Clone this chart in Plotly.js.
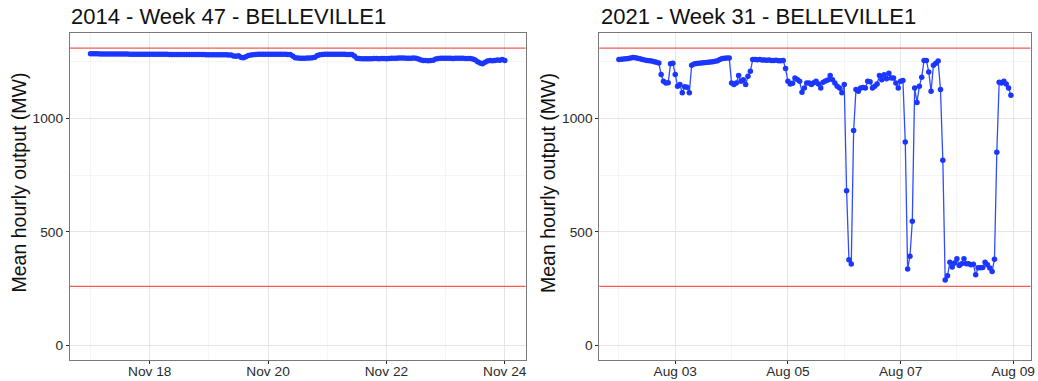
<!DOCTYPE html>
<html>
<head>
<meta charset="utf-8">
<script src="https://cdn.plot.ly/plotly-3.0.1.min.js"></script>
<style>
  html, body { margin: 0; padding: 0; background: #ffffff; }
  #chart { width: 1038px; height: 381px; }
</style>
</head>
<body>
<div id="chart"></div>
<script>
// Hourly mean output of BELLEVILLE1 for two weeks, with the unit's upper and lower limits.

const panelTitles = ['2014 - Week 47 - BELLEVILLE1', '2021 - Week 31 - BELLEVILLE1'];
const weekStarts = ['2014-11-17', '2021-08-02'];
const yAxisTitle = 'Mean hourly output (MW)';

// Operating limits (MW), drawn as horizontal reference lines
const limits = [260, 1310];

// Week 47, 2014: hourly means, Mon 00:00 .. Sun 23:00
const output2014 = [
  1285, 1285, 1285, 1285, 1284, 1284, 1284, 1284, 1284, 1284, 1284, 1284,
  1284, 1284, 1284, 1284, 1283, 1283, 1283, 1283, 1283, 1283, 1283, 1283,
  1283, 1283, 1283, 1283, 1283, 1283, 1283, 1283, 1282, 1282, 1282, 1282,
  1282, 1282, 1282, 1282, 1282, 1282, 1282, 1282, 1282, 1282, 1282, 1281,
  1281, 1281, 1281, 1281, 1281, 1281, 1281, 1281, 1280, 1280, 1276, 1274,
  1277, 1270, 1268, 1272, 1278, 1280, 1281, 1282, 1283, 1283, 1283, 1283,
  1283, 1283, 1283, 1283, 1283, 1283, 1283, 1283, 1282, 1282, 1276, 1268,
  1267, 1266, 1266, 1266, 1267, 1267, 1268, 1270, 1278, 1281, 1282, 1283,
  1283, 1283, 1283, 1283, 1283, 1283, 1283, 1283, 1282, 1282, 1282, 1275,
  1266, 1264, 1263, 1263, 1263, 1263, 1263, 1264, 1264, 1263, 1264, 1264,
  1263, 1265, 1266, 1266, 1266, 1267, 1267, 1267, 1266, 1266, 1266, 1267,
  1266, 1262, 1258, 1256, 1256, 1255, 1256, 1257, 1262, 1265, 1266, 1266,
  1266, 1266, 1266, 1265, 1266, 1266, 1266, 1266, 1265, 1265, 1264, 1262,
  1258, 1250, 1245, 1241, 1248, 1253, 1256, 1255, 1256, 1258, 1257, 1260,
  1256
];

// Week 31, 2021: hourly means, Mon 00:00 .. Sun 23:00
const output2021 = [
  1260, 1261, 1262, 1263, 1265, 1267, 1269, 1268, 1266, 1263, 1260, 1258,
  1256, 1254, 1253, 1250, 1248, 1245, 1194, 1164, 1157, 1158, 1241, 1244,
  1194, 1142, 1150, 1113, 1140, 1138, 1113, 1235, 1240, 1242, 1244, 1245,
  1246, 1247, 1248, 1249, 1250, 1252, 1255, 1260, 1264, 1266, 1267, 1267,
  1157, 1150, 1157, 1189, 1164, 1171, 1150, 1186, 1208, 1260, 1260, 1259,
  1260, 1258, 1258, 1257, 1258, 1256, 1256, 1257, 1255, 1254, 1256, 1220,
  1164, 1152, 1155, 1179, 1172, 1164, 1116, 1135, 1157, 1157, 1150, 1158,
  1164, 1152, 1135, 1160, 1165, 1170, 1189, 1171, 1157, 1142, 1135, 1113,
  1150, 682, 378, 359, 947, 1128, 1120, 1135, 1137, 1135, 1164, 1162,
  1135, 1142, 1152, 1189, 1171, 1193, 1175, 1200, 1178, 1178, 1157, 1135,
  1164, 1167, 897, 337, 393, 547, 1135, 1071, 1142, 1182, 1256, 1256,
  1205, 1120, 1235, 1244, 1253, 1128, 816, 288, 307, 367, 346, 363,
  382, 352, 360, 382, 360, 360, 356, 358, 311, 342, 342, 343,
  367, 356, 341, 326, 380, 851, 1160, 1157, 1164, 1152, 1135, 1103
];

const yTickVals = [0, 500, 1000];
const yMinorVals = [250, 750, 1250];
const xTickLabels2014 = ['Nov 18', 'Nov 20', 'Nov 22', 'Nov 24'];
const xTickVals2014 = ['2014-11-18', '2014-11-20', '2014-11-22', '2014-11-24'];
const xMinorVals2014 = ['2014-11-17', '2014-11-19', '2014-11-21', '2014-11-23'];
const xTickLabels2021 = ['Aug 03', 'Aug 05', 'Aug 07', 'Aug 09'];
const xTickVals2021 = ['2021-08-03', '2021-08-05', '2021-08-07', '2021-08-09'];
const xMinorVals2021 = ['2021-08-02', '2021-08-04', '2021-08-06', '2021-08-08'];

// ---- helpers ----
const HOUR = 3600 * 1000;
function pad(n) { return (n < 10 ? '0' : '') + n; }
function fmt(ms) {
  const d = new Date(ms);
  return d.getUTCFullYear() + '-' + pad(d.getUTCMonth() + 1) + '-' + pad(d.getUTCDate()) +
         ' ' + pad(d.getUTCHours()) + ':' + pad(d.getUTCMinutes());
}
function hourlyTimes(startDay, n) {
  const t0 = Date.parse(startDay + 'T00:00:00Z');
  const out = [];
  for (let i = 0; i < n; i++) out.push(fmt(t0 + i * HOUR));
  return out;
}
function paddedRange(times) {
  const a = Date.parse(times[0].replace(' ', 'T') + ':00Z');
  const b = Date.parse(times[times.length - 1].replace(' ', 'T') + ':00Z');
  const e = (b - a) * 0.05;
  return [fmt(a - e), fmt(b + e)];
}

const W = 1038, H = 381;
const px = v => v / W;
const py = v => 1 - v / H;

const t2014 = hourlyTimes(weekStarts[0], output2014.length);
const t2021 = hourlyTimes(weekStarts[1], output2021.length);

const dotColor = '#1a36ff';
const lineColor = '#2f4cff';
const limitColor = 'rgba(236,64,52,0.85)';
const borderColor = '#7a7a7a';
const gridMajor = '#e2e2e2';
const gridMinor = '#f1f1f1';
const textColor = '#2b2b2b';
const fontFamily = '"Liberation Sans", Arial, Helvetica, sans-serif';

function series(x, y, xa, ya) {
  return {
    type: 'scatter', mode: 'lines+markers', x: x, y: y, xaxis: xa, yaxis: ya,
    line: { color: lineColor, width: 1.3 },
    marker: { color: dotColor, size: 5.5 },
    hoverinfo: 'x+y', showlegend: false
  };
}

function xAxis(domain, range, tickvals, ticktext, minorvals, anchor) {
  return {
    type: 'date', domain: domain, range: range, anchor: anchor,
    tickmode: 'array', tickvals: tickvals, ticktext: ticktext,
    ticks: 'outside', ticklen: 3, tickwidth: 1, tickcolor: textColor,
    ticklabelstandoff: -5,
    tickfont: { family: fontFamily, size: 13.7, color: textColor },
    showgrid: true, gridcolor: gridMajor, gridwidth: 0.9,
    minor: { tickmode: 'array', tickvals: minorvals, showgrid: true, gridcolor: gridMinor, gridwidth: 0.7, ticks: '' },
    showline: true, mirror: true, linecolor: borderColor, linewidth: 1,
    zeroline: false, fixedrange: true
  };
}

function yAxis(domain, anchor) {
  return {
    domain: domain, range: [-65.5, 1375.5], anchor: anchor,
    tickmode: 'array', tickvals: yTickVals,
    ticks: 'outside', ticklen: 3, tickwidth: 1, tickcolor: textColor,
    tickfont: { family: fontFamily, size: 13.7, color: textColor },
    showgrid: true, gridcolor: gridMajor, gridwidth: 0.9,
    minor: { tickmode: 'array', tickvals: yMinorVals, showgrid: true, gridcolor: gridMinor, gridwidth: 0.7, ticks: '' },
    showline: true, mirror: true, linecolor: borderColor, linewidth: 1,
    zeroline: false, fixedrange: true
  };
}

const yDomain = [py(360.3), py(33.3)];

const shapes = [];
[['x', 'y'], ['x2', 'y2']].forEach(([xa, ya]) => {
  limits.forEach(v => {
    shapes.push({
      type: 'line', xref: xa + ' domain', yref: ya, x0: 0, x1: 1, y0: v, y1: v,
      line: { color: limitColor, width: 1.2 }, layer: 'above'
    });
  });
});

const annotations = [
  { text: panelTitles[0], xref: 'paper', yref: 'paper', x: px(69), y: py(17), xanchor: 'left', yanchor: 'middle',
    showarrow: false, font: { family: fontFamily, size: 22, color: '#111' } },
  { text: panelTitles[1], xref: 'paper', yref: 'paper', x: px(598.5), y: py(17), xanchor: 'left', yanchor: 'middle',
    showarrow: false, font: { family: fontFamily, size: 22, color: '#111' } },
  { text: yAxisTitle, xref: 'paper', yref: 'paper', x: px(18.5), y: py(183), xanchor: 'center', yanchor: 'middle',
    textangle: -90, showarrow: false, font: { family: fontFamily, size: 19.5, color: '#111' } },
  { text: yAxisTitle, xref: 'paper', yref: 'paper', x: px(548), y: py(183), xanchor: 'center', yanchor: 'middle',
    textangle: -90, showarrow: false, font: { family: fontFamily, size: 19.5, color: '#111' } }
];

const layout = {
  width: W, height: H,
  margin: { l: 0, r: 0, t: 0, b: 0 },
  paper_bgcolor: '#ffffff', plot_bgcolor: '#ffffff',
  font: { family: fontFamily, color: textColor },
  showlegend: false,
  xaxis: xAxis([px(69.8), px(525.5)], paddedRange(t2014), xTickVals2014, xTickLabels2014, xMinorVals2014, 'y'),
  yaxis: yAxis(yDomain, 'x'),
  xaxis2: xAxis([px(599.3), px(1030.5)], paddedRange(t2021), xTickVals2021, xTickLabels2021, xMinorVals2021, 'y2'),
  yaxis2: yAxis(yDomain, 'x2'),
  shapes: shapes,
  annotations: annotations
};

Plotly.newPlot('chart', [
  series(t2014, output2014, 'x', 'y'),
  series(t2021, output2021, 'x2', 'y2')
], layout, { staticPlot: true, displayModeBar: false });
</script>
</body>
</html>
